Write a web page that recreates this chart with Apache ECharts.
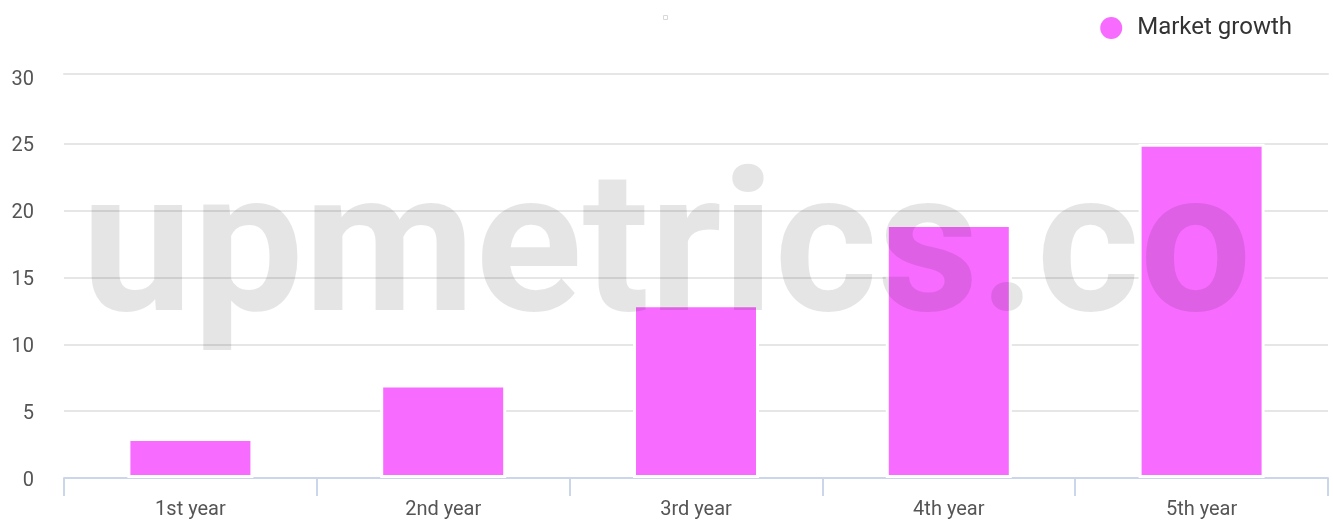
<!DOCTYPE html>
<html>
<head>
<meta charset="utf-8">
<script src="https://cdn.jsdelivr.net/npm/echarts@6/dist/echarts.min.js"></script>
<style>
html,body{margin:0;padding:0;background:#fff;}
#chart{width:1333px;height:520px;}
</style>
</head>
<body>
<div id="chart"></div>
<script>
const categories = ['1st year', '2nd year', '3rd year', '4th year', '5th year'];
const marketGrowth = [3, 7, 13, 19, 25];
const seriesName = 'Market growth';
const watermark = 'upmetrics.co';

const gridColor = '#e6e6e6';
const chart = echarts.init(document.getElementById('chart'), null, {renderer: 'canvas'});
chart.setOption({
  animation: false,
  textStyle: {fontFamily: 'Roboto'},
  legend: {
    data: [{name: seriesName, icon: 'circle'}],
    right: 36,
    top: 10,
    itemWidth: 24,
    itemHeight: 24,
    itemGap: 10,
    textStyle: {fontSize: 24, color: '#333333', fontFamily: 'Roboto', padding: [0, 0, 0, 9]}
  },
  grid: {left: 64, right: 5, top: 77, bottom: 42, containLabel: false},
  xAxis: [{
    type: 'category',
    data: categories,
    boundaryGap: true,
    axisLine: {lineStyle: {color: '#ccd6eb', width: 2}},
    axisTick: {show: true, length: 18, alignWithLabel: false, lineStyle: {color: '#ccd6eb', width: 2}},
    axisLabel: {fontSize: 20, color: '#555555', margin: 22, fontFamily: 'Roboto'},
    splitLine: {show: false}
  }, {
    type: 'category',
    data: categories,
    position: 'top',
    offset: 3,
    axisLine: {show: true, lineStyle: {color: gridColor, width: 2}},
    axisTick: {show: false},
    axisLabel: {show: false},
    splitLine: {show: false}
  }],
  yAxis: {
    type: 'value',
    min: 0, max: 30, interval: 5,
    axisLine: {show: false},
    axisTick: {show: false},
    axisLabel: {
      fontSize: 20, color: '#555555', margin: 30, fontFamily: 'Roboto',
      formatter: '{v|{value}}',
      rich: {v: {fontSize: 20, color: '#555555', fontFamily: 'Roboto', padding: [5, 0, 0, 0]}}
    },
    splitLine: {lineStyle: {color: [gridColor, gridColor, gridColor, gridColor, gridColor, gridColor, 'rgba(0,0,0,0)'], width: 2}}
  },
  series: [{
    name: seriesName,
    type: 'bar',
    data: marketGrowth,
    barWidth: 126,
    itemStyle: {color: '#f76bff', borderColor: '#ffffff', borderWidth: 3}
  }],
  graphic: [
    {
      type: 'text',
      z: 100,
      left: 'center',
      top: 161,
      silent: true,
      style: {
        text: watermark,
        font: 'bold 198px Roboto',
        fill: 'rgba(0,0,0,0.1)'
      }
    },
    {
      type: 'rect',
      left: 663,
      top: 15,
      shape: {width: 4, height: 4},
      style: {fill: '#ffffff', stroke: '#d8d8d8', lineWidth: 1}
    }
  ]
});
</script>
</body>
</html>
